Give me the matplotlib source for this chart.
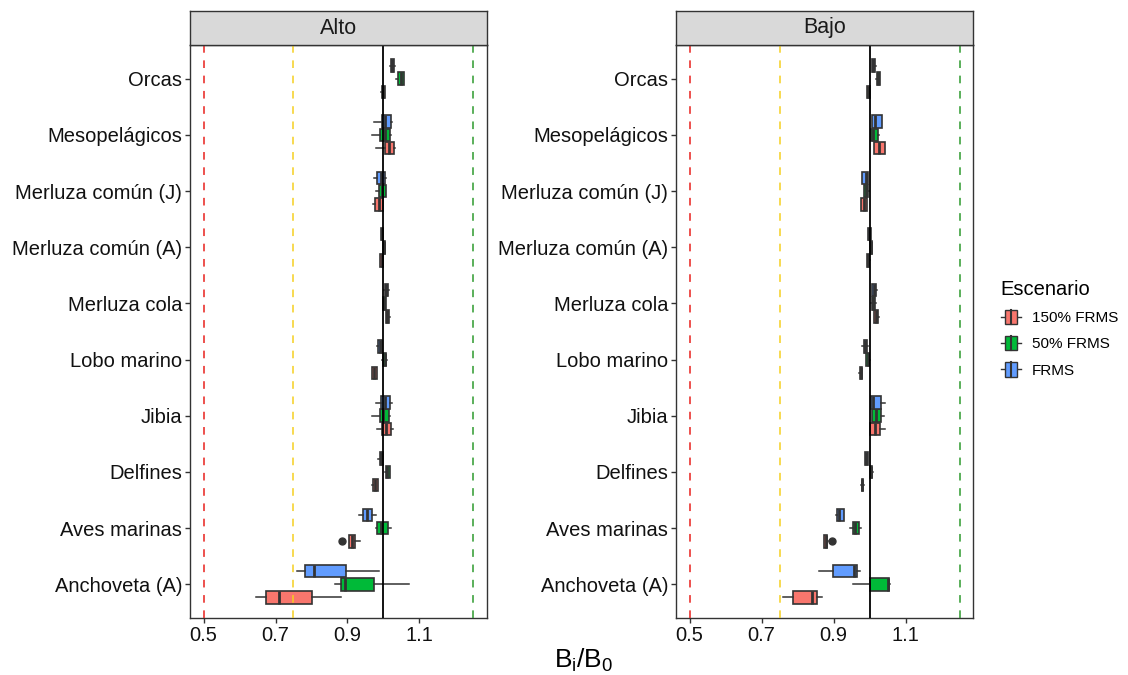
import matplotlib
matplotlib.use("Agg")
import matplotlib.pyplot as plt
from matplotlib.patches import Patch, Rectangle
from matplotlib.lines import Line2D
from matplotlib.legend_handler import HandlerBase

plt.rcParams['font.family'] = ['Liberation Sans', 'DejaVu Sans']

# ---------------- data ----------------
categories = ["Anchoveta (A)", "Aves marinas", "Delfines", "Jibia", "Lobo marino",
              "Merluza cola", "Merluza común (A)", "Merluza común (J)",
              "Mesopelágicos", "Orcas"]
scenarios = ["150% FRMS", "50% FRMS", "FRMS"]
panels = ["Alto", "Bajo"]
colors = ["#F8766D", "#00BA38", "#619CFF"]

# (whisker low, q1, median, q3, whisker high) per category, bottom to top
alto_150 = [(0.646, 0.674, 0.711, 0.802, 0.882), (0.904, 0.904, 0.913, 0.922, 0.934),
            (0.969, 0.970, 0.976, 0.984, 0.985), (0.983, 0.996, 1.007, 1.021, 1.026),
            (0.968, 0.969, 0.975, 0.981, 0.982), (1.006, 1.008, 1.011, 1.015, 1.018),
            (0.990, 0.991, 0.995, 0.998, 0.999), (0.970, 0.976, 0.987, 0.998, 0.998),
            (0.980, 1.003, 1.016, 1.029, 1.031), (0.994, 0.995, 0.999, 1.003, 1.004)]
alto_50 = [(0.865, 0.882, 0.892, 0.975, 1.072), (0.980, 0.981, 0.992, 1.012, 1.021),
           (1.004, 1.006, 1.011, 1.017, 1.019), (0.967, 0.989, 0.999, 1.015, 1.019),
           (0.996, 0.998, 1.003, 1.008, 1.010), (0.998, 0.999, 1.002, 1.006, 1.007),
           (0.998, 0.999, 1.001, 1.003, 1.004), (0.978, 0.987, 0.995, 1.006, 1.007),
           (0.968, 0.989, 1.003, 1.018, 1.021), (1.036, 1.041, 1.048, 1.056, 1.057)]
alto_frms = [(0.760, 0.781, 0.808, 0.896, 0.987), (0.933, 0.943, 0.953, 0.967, 0.978),
             (0.986, 0.989, 0.993, 0.999, 1.000), (0.980, 0.992, 1.003, 1.019, 1.024),
             (0.982, 0.984, 0.989, 0.995, 0.997), (1.002, 1.004, 1.008, 1.012, 1.015),
             (0.993, 0.994, 0.996, 0.999, 1.000), (0.973, 0.981, 0.992, 1.003, 1.007),
             (0.973, 0.996, 1.005, 1.021, 1.025), (1.018, 1.020, 1.025, 1.030, 1.032)]
bajo_150 = [(0.759, 0.787, 0.841, 0.855, 0.867), (0.873, 0.874, 0.878, 0.883, 0.884),
            (0.977, 0.978, 0.980, 0.983, 0.984), (1.001, 1.001, 1.014, 1.029, 1.044),
            (0.972, 0.973, 0.976, 0.979, 0.980), (1.012, 1.013, 1.018, 1.024, 1.026),
            (0.993, 0.994, 0.997, 0.999, 1.000), (0.975, 0.976, 0.984, 0.993, 0.994),
            (1.012, 1.013, 1.027, 1.042, 1.043), (0.992, 0.993, 0.996, 1.000, 1.001)]
bajo_50 = [(0.955, 1.001, 1.050, 1.054, 1.056), (0.947, 0.953, 0.960, 0.970, 0.975),
           (1.000, 1.001, 1.004, 1.008, 1.009), (1.006, 1.006, 1.018, 1.031, 1.040),
           (0.990, 0.991, 0.995, 0.999, 1.000), (1.005, 1.006, 1.010, 1.016, 1.017),
           (1.000, 1.001, 1.004, 1.007, 1.008), (0.984, 0.985, 0.991, 0.997, 0.998),
           (1.003, 1.004, 1.010, 1.025, 1.026), (1.019, 1.020, 1.024, 1.028, 1.029)]
bajo_frms = [(0.859, 0.899, 0.956, 0.964, 0.973), (0.908, 0.909, 0.915, 0.928, 0.929),
             (0.987, 0.988, 0.991, 0.995, 0.996), (1.003, 1.003, 1.010, 1.031, 1.042),
             (0.980, 0.984, 0.988, 0.993, 0.997), (1.007, 1.008, 1.013, 1.019, 1.021),
             (0.995, 0.996, 0.999, 1.003, 1.005), (0.978, 0.979, 0.990, 0.995, 0.996),
             (1.006, 1.007, 1.015, 1.034, 1.035), (1.007, 1.008, 1.011, 1.016, 1.017)]

# outliers: (panel, scenario index, category index, value)
outliers = [("Alto", 0, 1, 0.885), ("Bajo", 0, 1, 0.896)]

panel_data = {"Alto": [alto_150, alto_50, alto_frms],
              "Bajo": [bajo_150, bajo_50, bajo_frms]}

ref_lines = [(0.5, "#E8201C", "dashed"), (0.75, "#F5D020", "dashed"),
             (1.25, "#2E9A2E", "dashed"), (1.0, "black", "solid")]
xticks = [0.5, 0.7, 0.9, 1.1]

# ---------------- plot ----------------
EDGE = "#333333"
W, H = 1128, 675
fig = plt.figure(figsize=(W / 100, H / 100), dpi=100)

def fx(px):
    return px / W

def fy(py):
    return 1 - py / H

panel_left = [190, 676]
pw = 487 - 190
top_plot, bot_plot, strip_top = 45, 618, 11

box_w = 0.235
offsets = [-box_w, 0.0, box_w]

for pname, left in zip(panels, panel_left):
    ax = fig.add_axes([fx(left), fy(bot_plot), pw / W, (bot_plot - top_plot) / H])
    sax = fig.add_axes([fx(left), fy(top_plot), pw / W, (top_plot - strip_top) / H])
    for si, series in enumerate(panel_data[pname]):
        stats = []
        for ci, (lo, q1, med, q3, hi) in enumerate(series):
            fl = [o[3] for o in outliers if o[0] == pname and o[1] == si and o[2] == ci]
            stats.append(dict(whislo=lo, q1=q1, med=med, q3=q3, whishi=hi, fliers=fl))
        pos = [i + 1 + offsets[si] for i in range(len(categories))]
        ax.bxp(stats, positions=pos, widths=box_w * 0.95, orientation='horizontal',
               patch_artist=True, showcaps=False, showfliers=True,
               boxprops=dict(facecolor=colors[si], edgecolor=EDGE, linewidth=1.2),
               medianprops=dict(color=EDGE, linewidth=2.0, solid_capstyle='butt'),
               whiskerprops=dict(color=EDGE, linewidth=1.1),
               flierprops=dict(marker='o', markerfacecolor=EDGE, markeredgecolor=EDGE,
                               markersize=5))
    for xv, c, ls in ref_lines:
        if ls == "dashed":
            ax.axvline(xv, color=c, linewidth=1.1, dashes=(5, 5), zorder=5)
        else:
            ax.axvline(xv, color=c, linewidth=1.3, zorder=5)
    ax.set_xlim(0.4625, 1.2875)
    ax.set_ylim(0.4, len(categories) + 0.6)
    ax.set_yticks(range(1, len(categories) + 1))
    ax.set_yticklabels(categories)
    ax.set_xticks(xticks)
    ax.set_xticklabels([f"{v:.1f}" for v in xticks])
    ax.tick_params(axis='both', labelsize=14.5, color=EDGE, length=3.5, width=1.0,
                   labelcolor="#111111", pad=2)
    for sp in ax.spines.values():
        sp.set_color(EDGE)
        sp.set_linewidth(1.0)
    # strip
    sax.set_facecolor("#D9D9D9")
    sax.set_xticks([])
    sax.set_yticks([])
    for sp in sax.spines.values():
        sp.set_color(EDGE)
        sp.set_linewidth(1.0)
    sax.text(0.5, 0.5, pname, ha='center', va='center', fontsize=15.5, color="#1a1a1a",
             transform=sax.transAxes)

fig.text(fx(584), fy(660), r"$\mathregular{B_i/B_0}$", ha='center', va='center',
         fontsize=19, color="black")


class BoxKey(HandlerBase):
    def create_artists(self, legend, orig_handle, xdescent, ydescent, width, height,
                       fontsize, trans):
        fc = orig_handle.get_facecolor()
        x0, y0 = -xdescent, -ydescent
        wl = Line2D([x0, x0 + width], [y0 + height / 2] * 2, color=EDGE, lw=1.0,
                    transform=trans)
        r = Rectangle((x0 + width * 0.22, y0), width * 0.56, height, facecolor=fc,
                      edgecolor=EDGE, lw=1.0, transform=trans)
        m = Line2D([x0 + width / 2] * 2, [y0, y0 + height], color=EDGE, lw=1.5,
                   transform=trans)
        return [wl, r, m]


handles = [Patch(facecolor=c) for c in colors]
leg = fig.legend(handles, scenarios, title="Escenario", loc='upper left',
                 bbox_to_anchor=(fx(987), fy(266)), frameon=False, fontsize=11,
                 title_fontsize=14.5, handlelength=1.35, handleheight=1.05,
                 labelspacing=0.72, handletextpad=0.7, alignment='left',
                 handler_map={Patch: BoxKey()})

fig.savefig("out.png", dpi=100)
